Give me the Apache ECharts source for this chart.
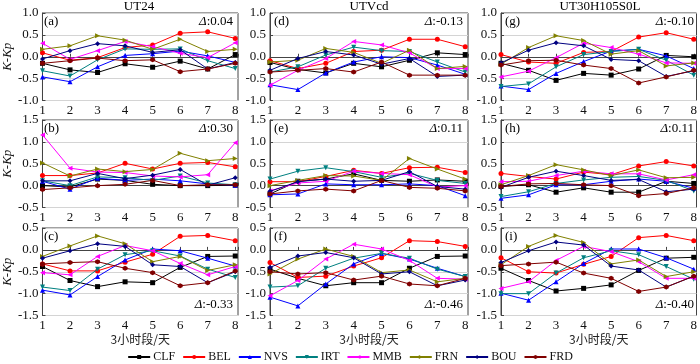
<!DOCTYPE html>
<html>
<head>
<meta charset="utf-8">
<script src="https://cdn.jsdelivr.net/npm/echarts@6/dist/echarts.min.js"></script>
<style>
html, body { margin: 0; padding: 0; background: #fff; }
#main { width: 700px; height: 364px; }
</style>
</head>
<body>
<div id="main"></div>
<script>
// x categories: 3-hour slot of the day
var hours = [1, 2, 3, 4, 5, 6, 7, 8];
var stations = ['CLF', 'BEL', 'NVS', 'IRT', 'MMB', 'FRN', 'BOU', 'FRD'];
var models = ['UT24', 'UTVcd', 'UT30H105S0L'];
var panelNames = ['(a)', '(b)', '(c)', '(d)', '(e)', '(f)', '(g)', '(h)', '(i)'];
var deltas = ['0.04', '0.30', '-0.33', '-0.13', '0.11', '-0.46', '-0.10', '0.11', '-0.40'];

// y tick labels per row
var yTicksRow1 = [-1.0, -0.5, 0.0, 0.5, 1.0];
var yTicksRow2 = [-0.5, 0.0, 0.5, 1.0, 1.5];
var yTicksRow3 = [-1.5, -1.0, -0.5, 0.0, 0.5];

// each panel: rows in station order CLF, BEL, NVS, IRT, MMB, FRN, BOU, FRD
var panelA = [
	[-0.15, -0.30, -0.36, -0.16, -0.24, -0.10, -0.28, 0.05],
	[0.09, -0.08, -0.02, 0.21, 0.27, 0.54, 0.57, 0.42],
	[-0.46, -0.57, -0.23, 0.03, 0.07, 0.13, 0.02, -0.13],
	[-0.32, -0.44, -0.07, 0.18, 0.17, 0.18, -0.09, -0.27],
	[0.31, -0.06, 0.14, 0.35, 0.23, 0.08, -0.02, 0.32],
	[0.17, 0.25, 0.48, 0.38, 0.17, 0.40, 0.12, 0.17],
	[-0.05, 0.14, 0.30, 0.25, 0.10, 0.16, -0.28, -0.13],
	[-0.15, -0.09, -0.03, -0.09, -0.07, -0.34, -0.28, -0.15]
];
var panelB = [
	[0.00, -0.03, 0.15, 0.12, 0.03, 0.00, 0.00, 0.01],
	[0.23, 0.23, 0.29, 0.51, 0.38, 0.51, 0.53, 0.43],
	[0.10, -0.08, 0.17, 0.12, 0.15, 0.11, 0.04, 0.01],
	[0.11, 0.00, 0.20, 0.18, 0.12, 0.22, 0.06, 0.02],
	[1.16, 0.40, 0.31, 0.30, 0.22, 0.20, 0.25, 0.98],
	[0.52, 0.22, 0.38, 0.32, 0.37, 0.74, 0.57, 0.62],
	[0.11, 0.11, 0.28, 0.16, 0.24, 0.37, 0.01, 0.18],
	[-0.09, -0.05, 0.00, 0.03, 0.12, 0.00, 0.02, 0.02]
];
var panelC = [
	[-0.38, -0.70, -0.84, -0.73, -0.75, -0.40, -0.15, -0.14],
	[-0.32, -0.48, -0.48, -0.28, -0.10, 0.31, 0.33, 0.21],
	[-0.92, -1.03, -0.61, -0.23, 0.02, -0.02, -0.19, -0.37],
	[-0.85, -0.93, -0.44, -0.11, -0.02, -0.14, -0.44, -0.63],
	[-0.52, -0.57, -0.15, 0.10, -0.02, -0.31, -0.57, -0.38],
	[-0.15, 0.09, 0.32, 0.14, -0.27, -0.15, -0.47, -0.34],
	[-0.19, -0.02, 0.14, 0.08, -0.34, -0.38, -0.75, -0.50],
	[-0.32, -0.29, -0.27, -0.42, -0.52, -0.82, -0.75, -0.48]
];
var panelD = [
	[-0.13, -0.29, -0.37, -0.15, -0.23, -0.08, 0.09, 0.05],
	[-0.09, -0.27, -0.15, 0.12, 0.15, 0.40, 0.40, 0.23],
	[-0.64, -0.75, -0.37, -0.12, 0.00, -0.02, -0.19, -0.40],
	[-0.35, -0.23, 0.04, 0.22, 0.14, 0.12, -0.12, -0.35],
	[-0.65, -0.31, -0.04, 0.35, 0.27, 0.09, -0.27, -0.27],
	[-0.12, -0.08, 0.19, 0.10, -0.15, 0.15, -0.27, -0.22],
	[-0.31, -0.04, 0.12, 0.04, -0.17, -0.04, -0.45, -0.42],
	[-0.35, -0.31, -0.27, -0.35, -0.12, -0.42, -0.42, -0.42]
];
var panelE = [
	[-0.19, 0.10, 0.15, 0.27, 0.12, 0.10, 0.13, 0.10],
	[0.09, 0.09, 0.21, 0.35, 0.28, 0.41, 0.42, 0.30],
	[-0.21, -0.19, 0.04, 0.02, 0.02, 0.04, 0.00, -0.23],
	[0.15, 0.33, 0.41, 0.32, 0.19, 0.28, 0.12, 0.05],
	[-0.12, 0.06, 0.10, 0.33, 0.28, 0.25, -0.03, 0.00],
	[0.00, 0.12, 0.23, 0.22, 0.12, 0.62, 0.38, 0.15],
	[-0.13, 0.09, 0.15, 0.10, 0.12, 0.32, -0.02, -0.08],
	[-0.19, -0.12, -0.08, -0.12, 0.12, -0.04, -0.06, -0.12]
];
var panelF = [
	[-0.44, -0.65, -0.82, -0.75, -0.75, -0.42, -0.15, -0.14],
	[-0.29, -0.63, -0.60, -0.37, -0.18, 0.21, 0.19, 0.08],
	[-1.08, -1.28, -0.78, -0.32, -0.08, -0.21, -0.42, -0.61],
	[-0.85, -0.82, -0.42, -0.19, -0.08, -0.19, -0.44, -0.61],
	[-1.05, -0.70, -0.21, 0.13, 0.02, -0.24, -0.65, -0.67],
	[-0.55, -0.21, 0.02, -0.15, -0.52, -0.46, -0.73, -0.65],
	[-0.40, -0.14, -0.06, -0.18, -0.55, -0.50, -0.82, -0.69],
	[-0.50, -0.55, -0.52, -0.69, -0.60, -0.78, -0.82, -0.65]
];
var panelG = [
	[-0.15, -0.31, -0.54, -0.38, -0.42, -0.28, 0.03, 0.00],
	[0.05, -0.12, -0.15, 0.10, 0.12, 0.45, 0.55, 0.40],
	[-0.67, -0.75, -0.38, -0.11, 0.13, 0.17, 0.02, -0.27],
	[-0.68, -0.62, -0.23, 0.05, 0.12, 0.17, -0.08, -0.42],
	[-0.46, -0.33, -0.02, 0.31, 0.21, 0.06, -0.14, -0.15],
	[-0.17, 0.21, 0.48, 0.37, 0.06, 0.14, -0.21, -0.14],
	[-0.14, 0.15, 0.32, 0.25, -0.06, -0.09, -0.45, -0.32],
	[-0.19, -0.09, -0.08, -0.19, -0.27, -0.60, -0.46, -0.31]
];
var panelH = [
	[-0.02, 0.02, -0.15, -0.05, -0.15, -0.15, 0.10, 0.05],
	[0.28, 0.21, 0.15, 0.31, 0.25, 0.45, 0.55, 0.45],
	[-0.29, -0.21, 0.02, 0.02, 0.10, 0.15, 0.10, -0.06],
	[-0.25, -0.14, 0.05, 0.13, 0.19, 0.21, 0.12, -0.12],
	[0.09, 0.10, 0.23, 0.33, 0.27, 0.27, 0.13, 0.25],
	[0.02, 0.23, 0.48, 0.36, 0.23, 0.36, 0.18, 0.19],
	[-0.04, 0.19, 0.33, 0.23, 0.12, 0.14, -0.14, -0.08],
	[-0.02, 0.04, 0.05, 0.02, 0.00, -0.23, -0.18, -0.05]
];
var panelI = [
	[-0.42, -0.70, -0.94, -0.88, -0.80, -0.47, -0.19, -0.17],
	[-0.18, -0.50, -0.53, -0.33, -0.15, 0.28, 0.33, 0.21],
	[-0.99, -1.15, -0.73, -0.31, 0.02, 0.02, -0.18, -0.44],
	[-1.00, -1.00, -0.53, -0.18, -0.02, -0.11, -0.38, -0.67],
	[-0.88, -0.73, -0.24, 0.08, -0.04, -0.27, -0.65, -0.65],
	[-0.34, 0.08, 0.33, 0.17, -0.32, -0.23, -0.61, -0.50],
	[-0.29, -0.02, 0.18, 0.11, -0.37, -0.46, -0.85, -0.60],
	[-0.36, -0.32, -0.28, -0.53, -0.65, -0.95, -0.85, -0.60]
];

var panels = [panelA, panelB, panelC, panelD, panelE, panelF, panelG, panelH, panelI];
var yTicks = [yTicksRow1, yTicksRow2, yTicksRow3];

var colors = ['#000000', '#ff0000', '#0000ff', '#008080', '#ff00ff', '#808000', '#000080', '#800000'];
var hexagon = 'path://M0,-1L0.87,-0.5L0.87,0.5L0,1L-0.87,0.5L-0.87,-0.5Z';
var symbols = ['rect', 'circle', 'triangle', 'triangle', 'triangle', 'triangle', 'diamond', hexagon];
var rotates = [0, 0, 0, 180, 90, -90, 0, 0];

var serif = 'Liberation Serif, Times New Roman, serif';
var colLeft = [40, 270, 501];
var rowTop = [13, 120, 228];
var gw = 198, gh = 87.5;

var grids = [], xAxes = [], yAxes = [], series = [], titles = [], texts = [];

for (var c = 0; c < 3; c++) {
	titles.push({
		text: models[c],
		left: colLeft[c] + gw / 2,
		top: 0,
		padding: 0,
		textAlign: 'center',
		textStyle: { fontFamily: serif, fontSize: 13, fontWeight: 'normal', color: '#000' }
	});
	for (var r = 0; r < 3; r++) {
		var k = c * 3 + r;
		var ticks = yTicks[r];
		grids.push({
			left: colLeft[c], top: rowTop[r], width: gw, height: gh,
			show: true, borderColor: '#444', borderWidth: 1, backgroundColor: 'transparent'
		});
		xAxes.push({
			type: 'value', gridIndex: k, min: hours[0], max: 8.1, interval: 1,
			axisLine: { lineStyle: { color: '#444' } },
			axisTick: { show: true, inside: true, length: 3, lineStyle: { color: '#444' } },
			splitLine: { show: false },
			axisLabel: {
				fontFamily: serif, fontSize: 13, color: '#111', margin: 4,
				formatter: function(v) { return v % 1 === 0 ? String(v) : ''; }
			},
			name: r === 2 ? '3小时段/天' : '',
			nameLocation: 'middle', nameGap: 18,
			nameTextStyle: { fontFamily: 'Noto Sans CJK SC', fontSize: 12, color: '#222' }
		});
		yAxes.push({
			type: 'value', gridIndex: k, min: ticks[0], max: ticks[ticks.length - 1], interval: 0.5,
			axisLine: { show: true, lineStyle: { color: '#444' } },
			axisTick: { show: true, inside: true, length: 3, lineStyle: { color: '#444' } },
			splitLine: { show: true, lineStyle: { color: '#d4d4d4', width: 1 } },
			axisLabel: {
				fontFamily: serif, fontSize: 13, color: '#111', margin: 4,
				formatter: function(v) { return v.toFixed(1); }
			},
			name: c === 0 ? 'K-Kp' : '',
			nameLocation: 'middle', nameGap: 27, nameRotate: 90,
			nameTextStyle: { fontFamily: serif, fontSize: 13, fontStyle: 'italic', color: '#111' }
		});
		var vals = panels[k];
		for (var s = 0; s < stations.length; s++) {
			series.push({
				name: stations[s],
				type: 'line',
				xAxisIndex: k, yAxisIndex: k,
				data: hours.map(function(h, i) { return [h, vals[s][i]]; }),
				symbol: symbols[s],
				symbolRotate: rotates[s],
				symbolSize: 5,
				showAllSymbol: true,
				lineStyle: { color: colors[s], width: 1 },
				itemStyle: { color: colors[s] },
				z: 2 + s,
				animation: false
			});
		}
		texts.push({
			type: 'text', left: colLeft[c] + 4, top: rowTop[r] + 2,
			style: { text: panelNames[k], font: '13px ' + serif, fill: '#000' }
		});
		var dy = r === 2 ? rowTop[r] + gh - 17 : rowTop[r] + 2;
		texts.push({
			type: 'text', right: 700 - (colLeft[c] + gw - 5), top: dy,
			style: {
				text: '{i|Δ}:' + deltas[k],
				font: '13px ' + serif, fill: '#000',
				rich: { i: { fontStyle: 'italic', fontFamily: serif, fontSize: 13 } }
			}
		});
	}
}

var myChart = echarts.init(document.getElementById('main'));
var option = {
	backgroundColor: '#fff',
	animation: false,
	title: titles,
	grid: grids,
	xAxis: xAxes,
	yAxis: yAxes,
	legend: {
		data: stations,
		top: 351,
		left: 'center',
		padding: 0,
		itemWidth: 22,
		itemHeight: 5,
		itemGap: 7,
		textStyle: { fontFamily: serif, fontSize: 12, color: '#111', padding: [0, 0, 0, -2] }
	},
	graphic: texts,
	series: series
};
myChart.setOption(option);
</script>
</body>
</html>
